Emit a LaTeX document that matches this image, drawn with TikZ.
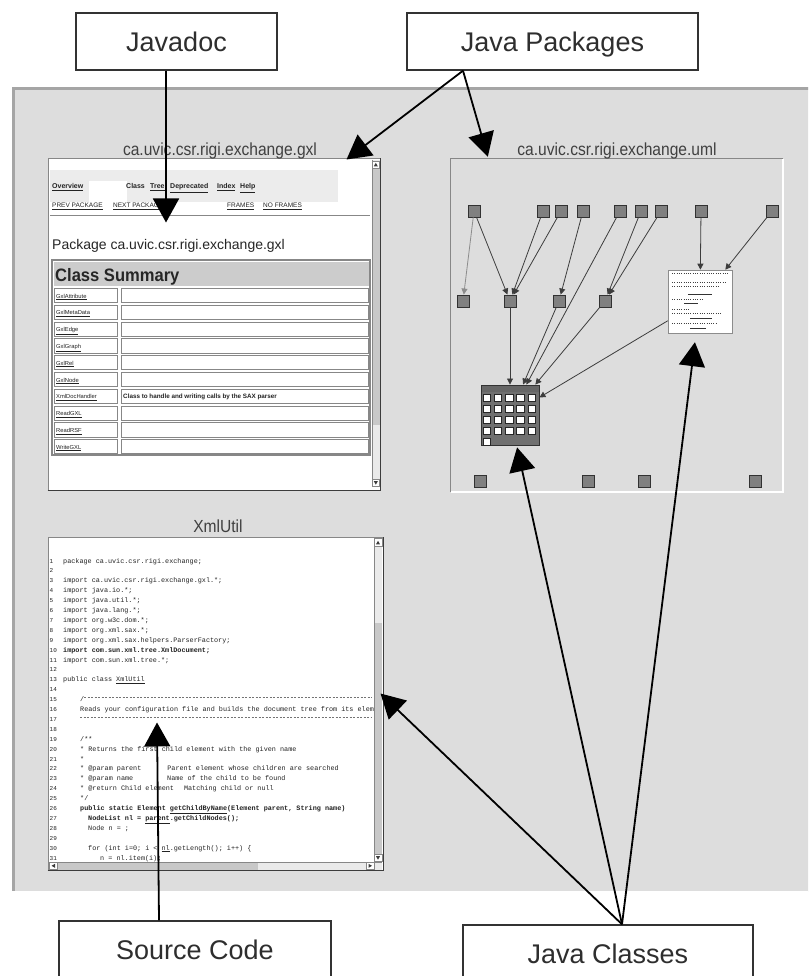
\documentclass[tikz,border=0pt]{standalone}
\usepackage{fontspec}
\setmainfont{Liberation Sans}
\newfontfamily\codefont{Liberation Mono}
\usepackage{graphicx}
\usetikzlibrary{arrows.meta}

\definecolor{panelfill}{RGB}{221,221,221}
\definecolor{paneltop}{RGB}{165,165,165}
\definecolor{frameline}{RGB}{135,135,135}
\definecolor{darkline}{RGB}{60,60,60}
\definecolor{classbox}{RGB}{128,128,128}
\definecolor{classedge}{RGB}{50,50,50}
\definecolor{matrixfill}{RGB}{112,112,112}
\definecolor{navfill}{RGB}{236,236,236}
\definecolor{headfill}{RGB}{204,204,204}
\definecolor{trackfill}{RGB}{200,200,200}
\definecolor{thumbfill}{RGB}{234,234,234}
\definecolor{inkfill}{RGB}{35,35,35}

\tikzset{
  label box/.style={draw=black!80, line width=1.4pt, fill=white, inner sep=0pt,
    minimum height=57pt, text height=19.5pt, text depth=0pt,
    font=\fontsize{27}{30}\selectfont, text=black!82},
  win title/.style={anchor=base, inner sep=0pt, text=black!75,
    font=\fontsize{17.5}{20}\selectfont},
  window/.style={draw=frameline, line width=1pt, fill=white, inner sep=0pt},
  pointer/.style={draw=black, line width=1.8pt, -{Triangle[length=24pt,width=26pt]}},
  class/.style={draw=classedge, fill=classbox, line width=0.9pt, minimum size=12pt, inner sep=0pt},
  dep/.style={draw=darkline, line width=0.8pt, -{Triangle[length=6pt,width=6pt]}},
  navtext/.style={anchor=base west, inner sep=0pt, text=inkfill, font=\fontsize{6.5}{7}\selectfont},
  rowtext/.style={anchor=base west, inner sep=0pt, text=inkfill, font=\fontsize{5.8}{6}\selectfont},
  codetext/.style={anchor=base west, inner sep=0pt, text=inkfill, font=\codefont\fontsize{6.8}{8}\selectfont},
  button/.style={draw=frameline, line width=0.5pt, fill=white},
  scribble/.style={draw=black!75, line width=0.9pt, dash pattern=on 1pt off 1.3pt},
}

\begin{document}
\begin{tikzpicture}[x=1pt,y=-1pt]
\useasboundingbox (0,0) rectangle (808,976);
\clip (0,0) rectangle (808,976);
\fill[white] (0,0) rectangle (808,976);

% ---------- grey desktop panel ----------
\fill[panelfill] (12,87) rectangle (812,892);
\fill[paneltop] (12,87) rectangle (812,90);
\fill[paneltop] (12,87) rectangle (14.5,892);
\draw[white, line width=1.2pt] (12,892) -- (812,892);

% ---------- javadoc page of the gxl package ----------
\node[window, minimum width=332pt, minimum height=331pt] (gxl) at (214,324.5) {};
\draw[darkline, line width=1.2pt] (gxl.south west) -- (gxl.south east) -- (gxl.north east);
\node[win title] (gxltitle) at (220,156) {\scalebox{0.89}[1]{ca.uvic.csr.rigi.exchange.gxl}};

% navigation bar
\fill[navfill] (50,170) rectangle (338,202);
\fill[white] (89,181) rectangle (127,202);
\node[navtext, font=\bfseries\fontsize{7}{8}\selectfont] (nav1) at (52,189) {\underline{Overview}};
\node[navtext, font=\bfseries\fontsize{7}{8}\selectfont] (nav2) at (126,189) {Class};
\node[navtext, font=\bfseries\fontsize{7}{8}\selectfont] (nav3) at (150,189) {\underline{Tree}};
\node[navtext, font=\bfseries\fontsize{7}{8}\selectfont] (nav4) at (170,189) {\underline{Deprecated}};
\node[navtext, font=\bfseries\fontsize{7}{8}\selectfont] (nav5) at (217,189) {\underline{Index}};
\node[navtext, font=\bfseries\fontsize{7}{8}\selectfont] (nav6) at (240,189) {\underline{Help}};
\node[navtext] (nav7) at (52,208) {\underline{PREV PACKAGE}};
\node[navtext] (nav8) at (113,208) {\underline{NEXT PACKAGE}};
\node[navtext] (nav9) at (227,208) {\underline{FRAMES}};
\node[navtext] (nav10) at (263,208) {\underline{NO FRAMES}};
\draw[frameline, line width=0.8pt] (50,215) -- (370,215);

\node[anchor=base west, inner sep=0pt, font=\fontsize{14}{16}\selectfont, text=black!85]
  (pkg) at (52,249) {Package ca.uvic.csr.rigi.exchange.gxl};

% class summary table
\draw[frameline, line width=1.2pt, fill=white] (52,260) rectangle (370,455);
\fill[headfill] (53.5,261.5) rectangle (368.5,286);
\node[anchor=base west, inner sep=0pt, font=\bfseries\fontsize{18}{20}\selectfont, text=black!85]
  (summary) at (55,281) {\scalebox{0.92}[1]{Class Summary}};
\foreach \i/\cname in {0/GxlAttribute,1/GxlMetaData,2/GxlEdge,3/GxlGraph,4/GxlRel,
                       5/GxlNode,6/XmlDocHandler,7/ReadGXL,8/ReadRSF,9/WriteGXL} {
  \pgfmathsetmacro\rowtop{287+16.8*\i}
  \draw[frameline, line width=0.8pt] (54,\rowtop+1.3) rectangle (117,\rowtop+15.5);
  \draw[frameline, line width=0.8pt] (121,\rowtop+1.3) rectangle (368,\rowtop+15.5);
  \node[rowtext] (row\i) at (56,\rowtop+11) {\underline{\cname}};
}
\node[rowtext, font=\bfseries\fontsize{6.3}{7}\selectfont] (rowdesc) at (123,398)
  {Class to handle and writing calls by the SAX parser};

% vertical scroll bar
\fill[thumbfill] (372,160) rectangle (379.5,487);
\fill[trackfill] (372,169) rectangle (379.5,425);
\draw[frameline, line width=0.5pt] (372,160) -- (372,487);
\draw[button] (372.3,160.8) rectangle (379.3,168);
\fill[darkline] (373.8,166.3) -- (377.8,166.3) -- (375.8,162.8) -- cycle;
\draw[button] (372.3,479.5) rectangle (379.3,486.5);
\fill[darkline] (373.8,481.2) -- (377.8,481.2) -- (375.8,484.7) -- cycle;

% ---------- uml view of the exchange package ----------
\node[inner sep=0pt, minimum width=332pt, minimum height=333pt] (uml) at (617,325.5) {};
\draw[frameline, line width=1.2pt] (uml.south west) -- (uml.north west) -- (uml.north east);
\draw[white, line width=1.5pt] (uml.north east) -- (uml.south east) -- (uml.south west);
\node[win title] (umltitle) at (617,156) {\scalebox{0.89}[1]{ca.uvic.csr.rigi.exchange.uml}};

\foreach \n/\x in {1/474,2/543,3/561,4/583,5/620,6/641,7/661,8/701,9/772}
  \node[class] (t\n) at (\x,211) {};
\foreach \n/\x in {1/463,2/510,3/559,4/605}
  \node[class] (m\n) at (\x,301) {};
\foreach \n/\x in {1/480,2/588,3/644,4/755}
  \node[class] (b\n) at (\x,481) {};

% package shown as a grid of classes
\node[draw=classedge, fill=matrixfill, line width=0.9pt, inner sep=0pt,
      minimum width=58pt, minimum height=60pt] (mat) at (510,415) {};
\fill[black!60] (481.5,385.5) rectangle (538.5,392);
\foreach \c in {0,...,4}
  \foreach \r in {0,...,3}
    \draw[fill=white, draw=black!85, line width=0.6pt] (483+11.2*\c,394+11*\r) rectangle ++(7.5,7.5);
\draw[fill=white, draw=black!85, line width=0.6pt] (483,438) rectangle ++(7.5,7.5);

% package shown as a small document
\node[draw=black!45, fill=white, line width=0.6pt, inner sep=0pt,
      minimum width=64pt, minimum height=63pt] (doc) at (700,301.5) {};
\draw[scribble] (672,273) -- (728,273);
\draw[scribble] (672,282) -- (726,282);
\draw[scribble] (672,286.5) -- (720,286.5);
\draw[black!80, line width=0.7pt] (688,294) -- (712,294);
\draw[scribble] (672,299) -- (704,299);
\draw[black!80, line width=0.7pt] (684,303.5) -- (698,303.5);
\draw[scribble] (672,309) -- (690,309);
\draw[scribble] (672,313.5) -- (722,313.5);
\draw[black!80, line width=0.7pt] (690,318) -- (712,318);
\draw[scribble] (672,323) -- (716,323);
\draw[black!80, line width=0.7pt] (690,328) -- (706,328);

% dependencies between the classes
\draw[dep, draw=black!45] (t1) -- (m1);
\draw[dep] (t1) -- (m2);
\draw[dep] (t2) -- (m2);
\draw[dep] (t3) -- (m2);
\draw[dep] (t4) -- (m3);
\draw[dep] (t6) -- (m4);
\draw[dep] (t7) -- (m4);
\draw[dep] (t8) -- (doc);
\draw[dep] (t9) -- (doc);
\draw[dep] (m2) -- (mat);
\draw[dep] (m3) -- (mat);
\draw[dep] (t5) -- (mat);
\draw[dep] (m4) -- (mat);
\draw[dep] (doc) -- (mat);

% ---------- source of XmlUtil ----------
\node[window, minimum width=335pt, minimum height=333pt] (xml) at (215.5,703.5) {};
\draw[darkline, line width=1.2pt] (xml.south west) -- (xml.south east) -- (xml.north east);
\node[win title] (xmltitle) at (218,532) {\scalebox{0.89}[1]{XmlUtil}};

\begin{scope}
  \clip (49,538) rectangle (373.5,862);
  \foreach \n in {1,...,31}
    \node[codetext, font=\codefont\fontsize{6}{7}\selectfont] (num\n) at (49.5,{563+9.9*(\n-1)}) {\n};
  \foreach \n/\x/\txt in {
      1/63/{package ca.uvic.csr.rigi.exchange;},
      3/63/{import ca.uvic.csr.rigi.exchange.gxl.*;},
      4/63/{import java.io.*;},
      5/63/{import java.util.*;},
      6/63/{import java.lang.*;},
      7/63/{import org.w3c.dom.*;},
      8/63/{import org.xml.sax.*;},
      9/63/{import org.xml.sax.helpers.ParserFactory;},
      10/63/{\bfseries import com.sun.xml.tree.XmlDocument;},
      11/63/{import com.sun.xml.tree.*;},
      13/63/{public class \underline{XmlUtil}},
      15/80/{/},
      16/80/{Reads your configuration file and builds the document tree from its elements},
      19/80/{/**},
      20/80/{ * Returns the first child element with the given name},
      21/80/{ *},
      22/80/{ * @param parent\hspace{26pt}Parent element whose children are searched},
      23/80/{ * @param name\hspace{34pt}Name of the child to be found},
      24/80/{ * @return Child element\hspace{10pt}Matching child or null},
      25/80/{ */},
      26/80/{\bfseries public static Element \underline{getChildByName}(Element parent, String name)},
      27/88/{\bfseries NodeList nl = \underline{parent}.getChildNodes();},
      28/88/{Node n = ;},
      30/88/{for (int i=0; i < \underline{nl}.getLength(); i++) \{},
      31/100/{n = nl.item(i);}}
    \node[codetext] (code\n) at (\x,{563+9.9*(\n-1)}) {\txt};
  \draw[black!55, line width=0.6pt, dash pattern=on 2pt off 1.5pt] (84,697) -- (372,697);
  \draw[black!55, line width=0.6pt, dash pattern=on 2pt off 1.5pt] (80,717) -- (372,717);
\end{scope}

% scroll bars of the source view
\fill[trackfill] (374,538) rectangle (382,862);
\fill[thumbfill] (374,546) rectangle (382,623);
\draw[frameline, line width=0.5pt] (374,538) -- (374,862);
\draw[button] (374.3,538.5) rectangle (381.8,546);
\fill[darkline] (376,544.3) -- (380,544.3) -- (378,540.8) -- cycle;
\draw[button] (374.3,854.5) rectangle (381.8,861.5);
\fill[darkline] (376,856.2) -- (380,856.2) -- (378,859.7) -- cycle;
\fill[thumbfill] (49,862) rectangle (382,869.5);
\fill[trackfill] (57,862) rectangle (258,869.5);
\draw[frameline, line width=0.5pt] (49,862) -- (382,862);
\draw[button] (49.3,862.3) rectangle (57,869.3);
\fill[darkline] (55,863.8) -- (55,867.8) -- (51.5,865.8) -- cycle;
\draw[button] (366.5,862.3) rectangle (374,869.3);
\fill[darkline] (368.5,863.8) -- (368.5,867.8) -- (372,865.8) -- cycle;

% ---------- callout labels ----------
\node[label box, minimum width=201pt] (jd) at (176.5,41.5) {Javadoc};
\node[label box, minimum width=291pt] (jp) at (552.5,41.5) {Java Packages};
\node[label box, minimum width=272pt] (sc) at (195,949.5) {Source Code};
\node[label box, minimum width=290pt] (jc) at (608,953.5) {Java Classes};

% tips of the callout pointers
\coordinate (jdtip) at ([shift={(-48,64)}]gxl.north);
\coordinate (gxltip) at ([shift={(-34,1)}]gxl.north east);
\coordinate (umltip) at ([shift={(37,-2)}]uml.north west);
\coordinate (sctip) at ([shift={(-58.5,186)}]xml.north);
\coordinate (xmltip) at ([shift={(-3,-10)}]xml.east);
\coordinate (jcfoot) at ([xshift=14pt]jc.north);
\coordinate (jpfoot) at ([xshift=-89.5pt]jp.south);

\draw[pointer] ([xshift=-10.5pt]jd.south) -- (jdtip);
\draw[pointer] (jpfoot) -- (gxltip);
\draw[pointer] (jpfoot) -- (umltip);
\draw[pointer] ([xshift=-36pt]sc.north) -- (sctip);
\draw[pointer] (jcfoot) -- (xmltip);
\draw[pointer, shorten >=2pt] (jcfoot) -- (mat);
\draw[pointer, shorten >=9pt] (jcfoot) -- (doc);
\end{tikzpicture}
\end{document}
